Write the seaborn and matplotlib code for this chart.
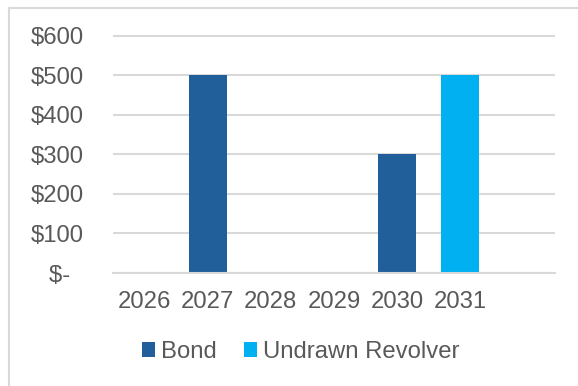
import matplotlib
matplotlib.use("Agg")
import matplotlib.pyplot as plt
from matplotlib.lines import Line2D
from matplotlib.patches import Patch
from matplotlib.ticker import FuncFormatter
import seaborn as sns
import pandas as pd

years = ["2026", "2027", "2028", "2029", "2030", "2031", ""]
bond = [0, 500, 0, 0, 300, 0, 0]
revolver = [0, 0, 0, 0, 0, 500, 0]
series_names = ["Bond", "Undrawn Revolver"]
colors = ["#215F9A", "#00B0F0"]
yticks = [0, 100, 200, 300, 400, 500, 600]

rows = []
for y, b, r in zip(years, bond, revolver):
    rows.append({"year": y, "series": series_names[0], "value": b})
    rows.append({"year": y, "series": series_names[1], "value": r})
df = pd.DataFrame(rows)

sns.set_theme(style="white")
plt.rcParams["font.family"] = ["Liberation Sans", "DejaVu Sans"]
text_color = "#595959"
grid_color = "#d9d9d9"
fs = 17.2

fig = plt.figure(figsize=(5.78, 3.86), dpi=100)
ax = fig.add_axes([113/578, 1-273/386, (555-113)/578, (273-33.7)/386])

sns.barplot(data=df, x="year", y="value", hue="series", order=years,
            hue_order=series_names, palette=colors, dodge=False, width=0.6,
            saturation=1, linewidth=0, ax=ax, legend=False, errorbar=None)

ax.set_xlim(-0.5, len(years) - 0.5)
ax.set_ylim(0, 605)
ax.set_yticks(yticks)
ax.yaxis.set_major_formatter(FuncFormatter(lambda v, p: "$-  " if v == 0 else f"${int(v)}"))
ax.set_xlabel("")
ax.set_ylabel("")
for s in ["top", "right", "left"]:
    ax.spines[s].set_visible(False)
ax.spines["bottom"].set_color(grid_color)
ax.spines["bottom"].set_linewidth(1.5)
ax.yaxis.grid(True, color=grid_color, linewidth=1.5)
ax.set_axisbelow(True)
ax.tick_params(axis="y", length=0, pad=21, labelsize=fs, labelcolor=text_color)
ax.tick_params(axis="x", length=0, pad=13, labelsize=fs, labelcolor=text_color)

handles = [Patch(facecolor=c, edgecolor="none", label=n) for c, n in zip(colors, series_names)]
fig.legend(handles=handles, loc="center", bbox_to_anchor=(300.5/578, 1-352/386),
           ncol=2, frameon=False, fontsize=fs, labelcolor=text_color,
           handlelength=0.55, handleheight=0.55, handletextpad=0.25,
           columnspacing=1.15, borderaxespad=0, borderpad=0)

fig.add_artist(Line2D([8.5/578, 8.5/578], [0, 1-7.5/386], color=grid_color, linewidth=1.5, transform=fig.transFigure))
fig.add_artist(Line2D([8.5/578, 1], [1-7.5/386, 1-7.5/386], color=grid_color, linewidth=1.5, transform=fig.transFigure))

fig.savefig("out.png", dpi=100)
